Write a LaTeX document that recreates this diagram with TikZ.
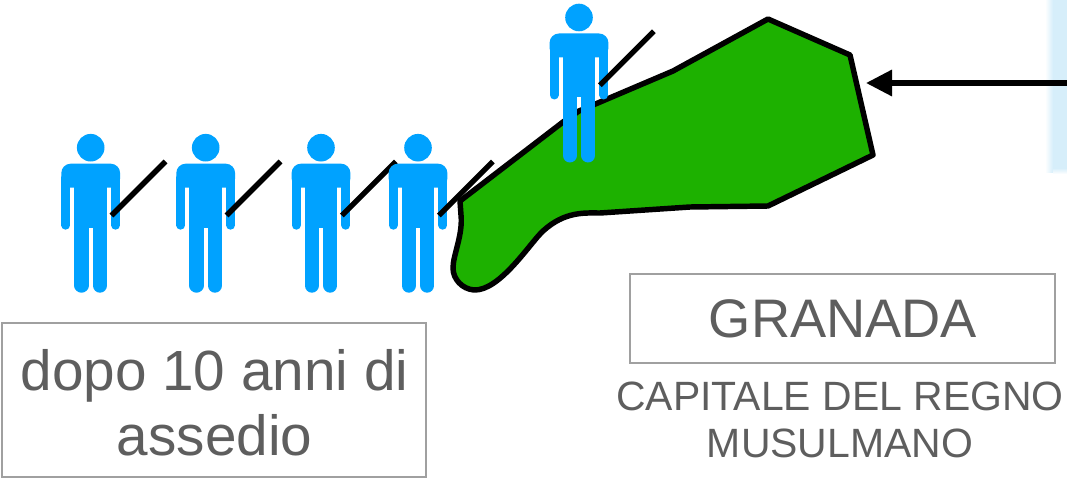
\documentclass[tikz,border=0pt]{standalone}
\usepackage{fontspec}
\setmainfont{Liberation Sans}
\usetikzlibrary{arrows.meta}
\definecolor{figblue}{HTML}{00A2FF}
\definecolor{land}{HTML}{1DB100}
\definecolor{txt}{HTML}{5E5E5E}
\definecolor{edge}{HTML}{A0A0A0}
\definecolor{panel}{HTML}{D6EEFA}
\tikzset{
  x=0.75pt,y=-0.75pt,
  figpart/.style={fill=figblue,draw=none},
  limb/.style={draw=figblue,line cap=round,line width=#1},
  stick/.style={draw=black,line width=4pt},
  labelbox/.style={draw=edge,line width=1.6pt,text=txt,align=center,inner sep=0pt,anchor=north west},
  plain/.style={text=txt,align=center,inner sep=0pt},
  person/.pic={
    \fill[figpart] (0,0) circle (13.8);
    \fill[figpart,rounded corners=7] (-29.4,16) rectangle (29.4,40);
    \draw[limb=6.75pt] (-24.9,30) -- (-24.9,77.5);
    \draw[limb=6.75pt] (24.9,30) -- (24.9,77.5);
    \fill[figpart] (-16.4,30) rectangle (16.4,80);
    \draw[limb=10.8pt] (-9.2,70) -- (-9.2,137.8);
    \draw[limb=10.8pt] (9.2,70) -- (9.2,137.8);
    \fill[figpart] (-16.4,30) rectangle (16.4,79);
    \draw[stick] (20.8,67.8) -- (74.8,13.8);
  }
}
\begin{document}
\begin{tikzpicture}
\useasboundingbox (0,0) rectangle (1067,478);
\shade[left color=white,right color=panel] (1045,0) rectangle (1053,172);
\fill[panel] (1053,0) rectangle (1067,168);
\shade[top color=panel,bottom color=white] (1053,168) rectangle (1067,174);
\draw[fill=land,draw=black,line width=4.1pt,line join=round]
  (460,201) -- (563,122) -- (579,111) -- (673,71) -- (768,19) -- (850,55) -- (873,155) -- (768,206)
  -- (690,207) -- (600,213)
  .. controls (585,213) and (565,211) .. (543,231)
  .. controls (530,243) and (500,291) .. (474,290)
  .. controls (462,289) and (453,279) .. (453,268)
  .. controls (453,255) and (463,235) .. (461,215)
  -- cycle;
\coordinate (arrowstart) at (1067,83);
\coordinate (arrowend) at (866,83);
\draw[line width=4pt,-{Triangle[length=19.5pt,width=19pt,sep=0pt]}] (arrowstart) -- (arrowend);
\pic at (90.7,147.7) {person};
\pic at (205.7,147.7) {person};
\pic at (321,147.7) {person};
\pic at (418,147.7) {person};
\pic at (579,17.5) {person};
\node[labelbox,minimum width=318pt,minimum height=116pt] (siege) at (1,321.5) {};
\node[plain,font=\fontsize{42.5pt}{49pt}\selectfont] (siegetext) at (214.5,403) {dopo 10 anni di\\assedio};
\node[labelbox,minimum width=318.5pt,minimum height=67pt] (city) at (629,272.5) {};
\node[plain,font=\fontsize{40.7pt}{47pt}\selectfont] (citytext) at (843,319) {GRANADA};
\node[plain,font=\fontsize{30.7pt}{35pt}\selectfont] (capital) at (840,420) {CAPITALE DEL REGNO\\MUSULMANO};
\end{tikzpicture}
\end{document}
